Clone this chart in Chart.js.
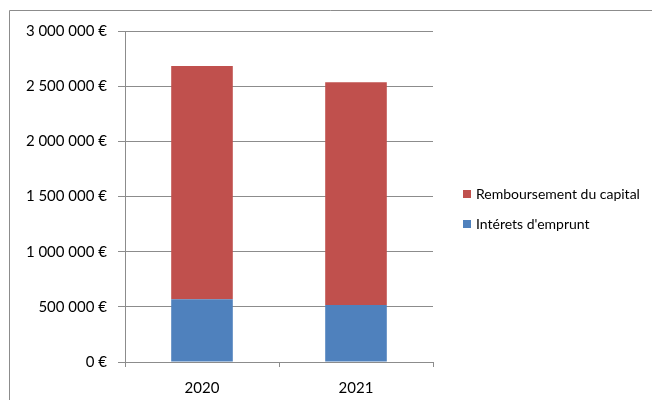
<!DOCTYPE html>
<html>
<head>
<meta charset="utf-8">
<script src="https://cdn.jsdelivr.net/npm/chart.js@4/dist/chart.umd.min.js"></script>
<style>
    body { margin: 0; background: #fff; }
    #wrap { position: relative; width: 652px; height: 400px; }
</style>
</head>
<body>
<div id="wrap"><canvas id="chart" width="652" height="400"></canvas></div>
<script>
// values
const years = ["2020", "2021"];
const interets = [568000, 517000];
const remboursement = [2115000, 2018000];
const yTickLabels = ["0 €", "500 000 €", "1 000 000 €", "1 500 000 €", "2 000 000 €", "2 500 000 €", "3 000 000 €"];

const FONT = "Lato";
const GRID = "#8c8c8c";

// outer frame (only top and left edges are visible in the picture)
const framePlugin = {
    id: "frame",
    beforeDraw(chart) {
        let ctx = chart.ctx;
        ctx.save();
        ctx.strokeStyle = GRID;
        ctx.lineWidth = 1;
        ctx.beginPath();
        ctx.moveTo(9.5, 400);
        ctx.lineTo(9.5, 10.5);
        ctx.lineTo(652, 10.5);
        ctx.stroke();
        ctx.restore();
    }
};

// legend drawn to the right, top entry = last dataset
const legendPlugin = {
    id: "sideLegend",
    afterDraw(chart) {
        let ctx = chart.ctx;
        let sets = chart.data.datasets.slice().reverse();
        ctx.save();
        ctx.font = "14px " + FONT;
        ctx.textBaseline = "middle";
        sets.forEach(function (ds, i) {
            let y = 194 + i * 30;
            ctx.fillStyle = ds.backgroundColor;
            ctx.fillRect(463, y - 4, 8, 8);
            ctx.fillStyle = "#000";
            ctx.fillText(ds.label, 476, y);
        });
        ctx.restore();
    }
};

new Chart(document.getElementById("chart").getContext("2d"), {
    type: "bar",
    data: {
        labels: years,
        datasets: [
            { label: "Intérets d'emprunt", data: interets, backgroundColor: "#4F81BD" },
            { label: "Remboursement du capital", data: remboursement, backgroundColor: "#C0504D" }
        ]
    },
    options: {
        responsive: false,
        animation: false,
        layout: { padding: { left: 0, right: 219, top: 31, bottom: 0 } },
        datasets: { bar: { barPercentage: 0.4, categoryPercentage: 1 } },
        plugins: { legend: { display: false }, tooltip: { enabled: false } },
        scales: {
            x: {
                stacked: true,
                afterFit: s => { s.height = 38; },
                grid: { drawOnChartArea: false, drawTicks: true, tickLength: 5, color: GRID },
                border: { color: GRID },
                ticks: { color: "#000", font: { family: FONT, size: 15 }, padding: 12 }
            },
            y: {
                stacked: true,
                min: 0,
                max: 3000000,
                afterFit: s => { s.width = 125; },
                grid: { color: GRID, tickLength: 7 },
                border: { color: GRID },
                ticks: {
                    stepSize: 500000,
                    color: "#000",
                    font: { family: FONT, size: 15 },
                    padding: 11,
                    callback: (v, i) => yTickLabels[i]
                }
            }
        }
    },
    plugins: [framePlugin, legendPlugin]
});
</script>
</body>
</html>
